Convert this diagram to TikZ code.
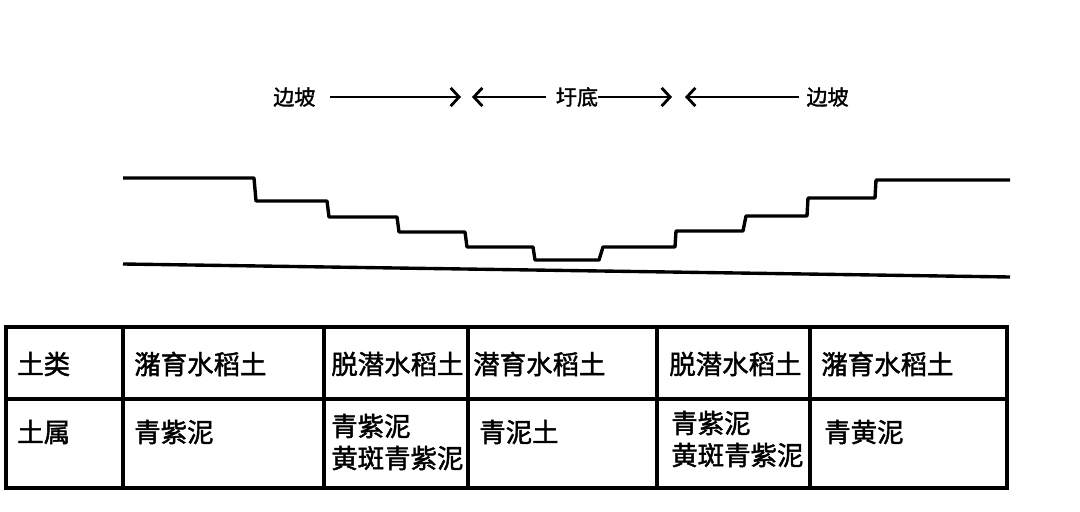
\documentclass[tikz,border=0pt]{standalone}
\usepackage{fontspec}
\newfontfamily\cjk{Noto Sans CJK SC}[FakeBold=1.6]
\usetikzlibrary{positioning,arrows.meta}
\tikzset{
	>={Straight Barb[length=6pt,width=13pt]},
	lbl/.style={font=\cjk\fontsize{15}{18}\selectfont, inner sep=0pt},
	cell/.style={font=\cjk\fontsize{18.8}{22.8}\selectfont, inner sep=0pt, anchor=west, align=left},
	arr/.style={->, line width=2pt},
	ground/.style={line width=2.4pt, line join=round},
	grid/.style={line width=2.3pt}
}

\begin{document}
\begin{tikzpicture}[x=0.025cm,y=-0.025cm]
			\useasboundingbox (0,0) rectangle (1080,512);
			\node (bpL) [lbl, anchor=west] at (273,97) {边坡};
			\node (yd) [lbl] at (577,97) {圩底};
			\node (bpR) [lbl, anchor=east] at (849,97) {边坡};
			\coordinate (hA) at (461,97);
			\coordinate (hB) at (472,97);
			\coordinate (hC) at (672,97);
			\coordinate (hD) at (685,97);
			\path[arr] (bpL) edge[shorten <=10pt] (hA)
			(yd) edge[shorten <=7pt] (hB)
			(yd) edge (hC)
			(bpR) edge[shorten <=5pt] (hD);
			\draw[ground] (123,178) -- (254,178) -- (256,201) -- (327,201) -- (329,217) -- (397,217) -- (399,232) -- (465,232) -- (467,247) -- (533,247) -- (535,260) -- (599,260) -- (603,247) -- (675,247) -- (676,231) -- (743,231) -- (746,216) -- (807,216) -- (808,198) -- (875,198) -- (876,180) -- (1010,180);
			\draw[ground] (123,264) -- (1010,277);
			\draw[grid] (6,327) rectangle (1007,488);
			\draw[grid] (6,399) -- (1007,399);
			\foreach \x in {123,324,468,657,810}
				\draw[grid] (\x,327) -- (\x,488);
			\node (tl) [cell] at (17,364) {土类};
			\node (tlA) [cell] at (134,364) {潴育水稻土};
			\node (tlB) [cell] at (331,364) {脱潜水稻土};
			\node (tlC) [cell] at (473,364) {潜育水稻土};
			\node (tlD) [cell] at (669,364) {脱潜水稻土};
			\node (tlE) [cell] at (821,364) {潴育水稻土};
			\node (ts) [cell] at (17,432) {土属};
			\node (tsA) [cell] at (134,432) {青紫泥};
			\node (tsB) [cell] at (331,442) {青紫泥\\黄斑青紫泥};
			\node (tsC) [cell] at (479,432) {青泥土};
			\node (tsD) [cell] at (671,439) {青紫泥\\黄斑青紫泥};
			\node (tsE) [cell] at (824,432) {青黄泥};
\end{tikzpicture}
\end{document}
